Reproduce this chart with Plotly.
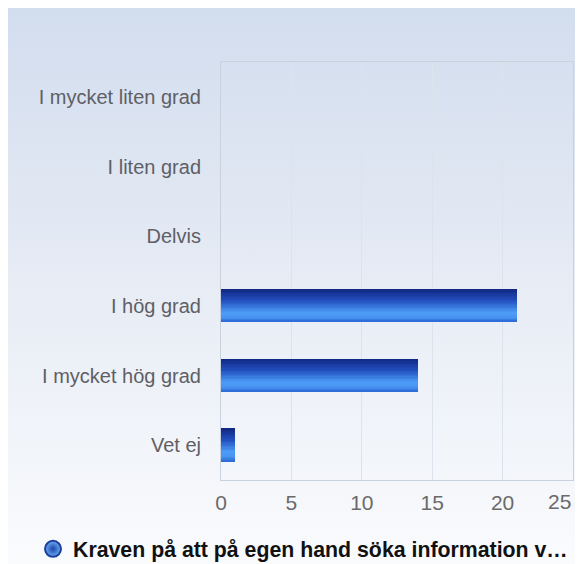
import base64
import plotly.graph_objects as go

categories = ["I mycket liten grad", "I liten grad", "Delvis", "I hög grad", "I mycket hög grad", "Vet ej"]
values = [0, 0, 0, 21, 14, 1]
x_ticks = [0, 5, 10, 15, 20, 25]
series_name = "Kraven på att på egen hand söka information v…"

# the page body adds an 8px margin, so the figure is 8px smaller than the window
W, H = 575, 556
L, R, T, B = 213, 10, 54, 84
pw, ph = W - L - R, H - T - B

# vertical gradient stops for the bars (top -> bottom)
stops = [(0.0, (16, 38, 128)), (0.35, (34, 78, 190)), (0.72, (76, 156, 246)),
         (0.88, (70, 146, 240)), (1.0, (42, 102, 212))]

def interp(t):
    for (t0, c0), (t1, c1) in zip(stops[:-1], stops[1:]):
        if t0 <= t <= t1:
            f = (t - t0) / (t1 - t0) if t1 > t0 else 0
            return "rgb(%d,%d,%d)" % tuple(round(a + (b - a) * f) for a, b in zip(c0, c1))
    return "rgb(%d,%d,%d)" % stops[-1][1]

fig = go.Figure()
bw = 0.47
N = 24
dw = bw / N
for i in range(N):
    fig.add_trace(go.Bar(
        y=categories, x=values, orientation="h",
        width=dw * 1.02, offset=-bw / 2 + i * dw,
        marker=dict(color=interp((i + 0.5) / N), line=dict(width=0)),
        showlegend=False, hoverinfo="skip" if i else "x+y",
    ))

fig.add_trace(go.Scatter(
    x=[None], y=[None], mode="markers", name=series_name,
    marker=dict(symbol="circle", size=16, color="#6aaef5",
                gradient=dict(type="radial", color="#1f44a8"),
                line=dict(width=2, color="#1d3f9e")),
))

svg = ('<svg xmlns="http://www.w3.org/2000/svg" width="100" height="100" preserveAspectRatio="none">'
       '<defs><linearGradient id="g" x1="0" y1="0" x2="0" y2="1">'
       '<stop offset="0" stop-color="#d2ddee"/><stop offset="0.5" stop-color="#e7ecf5"/>'
       '<stop offset="1" stop-color="#fafbfd"/></linearGradient></defs>'
       '<rect width="100" height="100" fill="url(#g)"/></svg>')
src = "data:image/svg+xml;base64," + base64.b64encode(svg.encode()).decode()

tick_font = dict(family="Liberation Sans, Arial, sans-serif", color="#6a6a6a", size=21)

# the last label is pulled inside the plot edge, as in the original
ticktext = [str(v) for v in x_ticks]
last_label = ticktext[-1]
ticktext[-1] = ""

fig.update_layout(
    width=W, height=H,
    margin=dict(l=L, r=R, t=T, b=B, pad=0, autoexpand=False),
    paper_bgcolor="white", plot_bgcolor="rgba(0,0,0,0)",
    barmode="overlay", bargap=0,
    font=dict(family="Liberation Sans, Arial, sans-serif", size=20, color="#5f5f66"),
    images=[dict(source=src, xref="paper", yref="paper",
                 x=-L / pw, y=1 + T / ph,
                 sizex=W / pw, sizey=H / ph,
                 xanchor="left", yanchor="top", sizing="stretch", layer="below")],
    annotations=[dict(text=last_label, x=x_ticks[-1], xref="x", y=0, yref="paper",
                      xanchor="right", yanchor="top", yshift=-8, showarrow=False,
                      font=tick_font)],
    showlegend=True,
    legend=dict(orientation="h", x=(295 - L) / pw, xanchor="center",
                y=-(541 - T - ph) / ph, yanchor="middle",
                bgcolor="rgba(0,0,0,0)",
                font=dict(family="Liberation Sans, Arial, sans-serif", size=21.3, color="#111111", weight="bold"),
                itemsizing="trace"),
    xaxis=dict(range=[0, 25], tickvals=x_ticks, ticktext=ticktext,
               showgrid=True, gridcolor="#dde3ec", gridwidth=1,
               showline=True, linecolor="#c9d1dc", mirror=True, zeroline=False,
               ticks="", ticklabelstandoff=4, tickfont=tick_font),
    yaxis=dict(categoryorder="array", categoryarray=categories, autorange="reversed",
               showgrid=False, showline=True, linecolor="#c9d1dc", mirror=True,
               ticks="", ticklabelstandoff=15, tickfont=dict(color="#5f5f66", size=20)),
)

fig.write_html("out.html")
